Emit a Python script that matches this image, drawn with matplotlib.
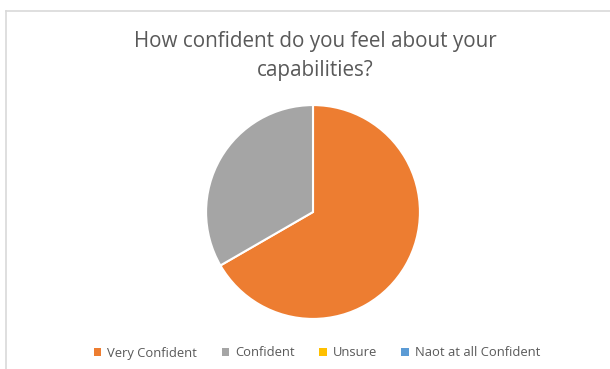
import matplotlib
matplotlib.use("Agg")
import matplotlib.pyplot as plt
from matplotlib.patches import Rectangle
from matplotlib.lines import Line2D

categories = ["Very Confident", "Confident", "Unsure", "Naot at all Confident"]
values = [2, 1, 0, 0]
colors = ["#ED7D31", "#A5A5A5", "#FFC000", "#5B9BD5"]
title = "How confident do you feel about your\ncapabilities?"

W, H = 610, 369
fig = plt.figure(figsize=(W/100, H/100), dpi=100)
fig.patch.set_facecolor("white")

# chart-area border (top and left visible)
fig.add_artist(Line2D([6/W, 1], [1-11/H, 1-11/H], transform=fig.transFigure, color="#D9D9D9", lw=1.2))
fig.add_artist(Line2D([6/W, 6/W], [0, 1-11/H], transform=fig.transFigure, color="#D9D9D9", lw=1.2))

cx, cy, r = 313, 212, 108
ax = fig.add_axes([(cx-r)/W, 1-(cy+r)/H, 2*r/W, 2*r/H])
nz = [(v, c) for v, c in zip(values, colors) if v > 0]
ax.pie([v for v, c in nz], colors=[c for v, c in nz], startangle=90, counterclock=False,
       wedgeprops=dict(edgecolor="white", linewidth=1.5), radius=1.0)
ax.set_xlim(-1.01, 1.01)
ax.set_ylim(-1.01, 1.01)
ax.set_aspect("equal")
ax.axis("off")

fig.text(315/W, 1-56/H, title, ha="center", va="center", fontsize=14.9, color="#595959",
         family="Open Sans", linespacing=1.45)

handles = [Rectangle((0, 0), 1, 1, facecolor=c, edgecolor="none") for c in colors]
leg = fig.legend(handles, categories, loc="center", bbox_to_anchor=(317/W, 1-353/H), ncol=4,
                 frameon=False, handlelength=0.55, handleheight=0.55,
                 handletextpad=0.45, columnspacing=1.9, prop=dict(family="Open Sans", size=9.4))
for t in leg.get_texts():
    t.set_color("#595959")

fig.savefig("out.png", dpi=100, facecolor="white")
